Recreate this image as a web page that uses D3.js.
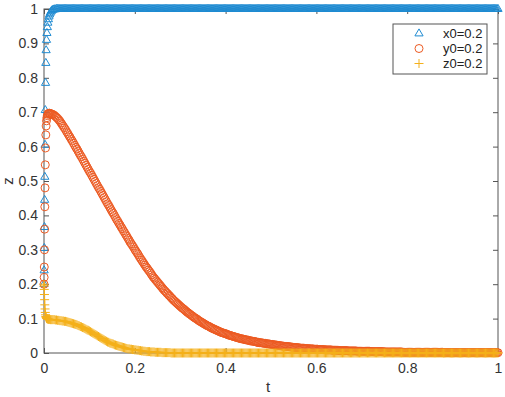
<!DOCTYPE html>
<html>
<head>
<meta charset="utf-8">
<script src="https://cdn.jsdelivr.net/npm/d3@7"></script>
<style>
  body { margin: 0; background: #fff; }
  svg { display: block; font-family: "Liberation Sans", Arial, sans-serif; }
</style>
</head>
<body>
<div id="chart-area"></div>
<script>
// solver output, first steps are very short
var tEarly = [0, 0.0003, 0.0006, 0.001, 0.0014, 0.0018, 0.0023, 0.0028, 0.0034, 0.004, 0.0047,
    0.0055, 0.0064, 0.0074, 0.0085, 0.0097, 0.011, 0.0124, 0.014, 0.0158, 0.0178];
var xEarly = [0.2, 0.24, 0.305, 0.366, 0.445, 0.512, 0.605, 0.706, 0.785, 0.843, 0.88,
    0.91, 0.93, 0.947, 0.96, 0.97, 0.978, 0.984, 0.989, 0.993, 0.996];
var yEarly = [0.2, 0.22, 0.25, 0.3, 0.36, 0.425, 0.48, 0.547, 0.596, 0.634, 0.66,
    0.675, 0.684, 0.69, 0.694, 0.696, 0.697, 0.697, 0.696, 0.695, 0.694];
var zEarly = [0.2, 0.195, 0.185, 0.17, 0.155, 0.14, 0.128, 0.118, 0.111, 0.106, 0.103,
    0.101, 0.1, 0.099, 0.099, 0.098, 0.098, 0.098, 0.097, 0.097, 0.097];

// then a fixed step, 8 samples per row
var tMain = [
    0.02,0.0225,0.025,0.0275,0.03,0.0325,0.035,0.0375,
    0.04,0.0425,0.045,0.0475,0.05,0.0525,0.055,0.0575,
    0.06,0.0625,0.065,0.0675,0.07,0.0725,0.075,0.0775,
    0.08,0.0825,0.085,0.0875,0.09,0.0925,0.095,0.0975,
    0.1,0.1025,0.105,0.1075,0.11,0.1125,0.115,0.1175,
    0.12,0.1225,0.125,0.1275,0.13,0.1325,0.135,0.1375,
    0.14,0.1425,0.145,0.1475,0.15,0.1525,0.155,0.1575,
    0.16,0.1625,0.165,0.1675,0.17,0.1725,0.175,0.1775,
    0.18,0.1825,0.185,0.1875,0.19,0.1925,0.195,0.1975,
    0.2,0.2025,0.205,0.2075,0.21,0.2125,0.215,0.2175,
    0.22,0.2225,0.225,0.2275,0.23,0.2325,0.235,0.2375,
    0.24,0.2425,0.245,0.2475,0.25,0.2525,0.255,0.2575,
    0.26,0.2625,0.265,0.2675,0.27,0.2725,0.275,0.2775,
    0.28,0.2825,0.285,0.2875,0.29,0.2925,0.295,0.2975,
    0.3,0.3025,0.305,0.3075,0.31,0.3125,0.315,0.3175,
    0.32,0.3225,0.325,0.3275,0.33,0.3325,0.335,0.3375,
    0.34,0.3425,0.345,0.3475,0.35,0.3525,0.355,0.3575,
    0.36,0.3625,0.365,0.3675,0.37,0.3725,0.375,0.3775,
    0.38,0.3825,0.385,0.3875,0.39,0.3925,0.395,0.3975,
    0.4,0.4025,0.405,0.4075,0.41,0.4125,0.415,0.4175,
    0.42,0.4225,0.425,0.4275,0.43,0.4325,0.435,0.4375,
    0.44,0.4425,0.445,0.4475,0.45,0.4525,0.455,0.4575,
    0.46,0.4625,0.465,0.4675,0.47,0.4725,0.475,0.4775,
    0.48,0.4825,0.485,0.4875,0.49,0.4925,0.495,0.4975,
    0.5,0.5025,0.505,0.5075,0.51,0.5125,0.515,0.5175,
    0.52,0.5225,0.525,0.5275,0.53,0.5325,0.535,0.5375,
    0.54,0.5425,0.545,0.5475,0.55,0.5525,0.555,0.5575,
    0.56,0.5625,0.565,0.5675,0.57,0.5725,0.575,0.5775,
    0.58,0.5825,0.585,0.5875,0.59,0.5925,0.595,0.5975,
    0.6,0.6025,0.605,0.6075,0.61,0.6125,0.615,0.6175,
    0.62,0.6225,0.625,0.6275,0.63,0.6325,0.635,0.6375,
    0.64,0.6425,0.645,0.6475,0.65,0.6525,0.655,0.6575,
    0.66,0.6625,0.665,0.6675,0.67,0.6725,0.675,0.6775,
    0.68,0.6825,0.685,0.6875,0.69,0.6925,0.695,0.6975,
    0.7,0.7025,0.705,0.7075,0.71,0.7125,0.715,0.7175,
    0.72,0.7225,0.725,0.7275,0.73,0.7325,0.735,0.7375,
    0.74,0.7425,0.745,0.7475,0.75,0.7525,0.755,0.7575,
    0.76,0.7625,0.765,0.7675,0.77,0.7725,0.775,0.7775,
    0.78,0.7825,0.785,0.7875,0.79,0.7925,0.795,0.7975,
    0.8,0.8025,0.805,0.8075,0.81,0.8125,0.815,0.8175,
    0.82,0.8225,0.825,0.8275,0.83,0.8325,0.835,0.8375,
    0.84,0.8425,0.845,0.8475,0.85,0.8525,0.855,0.8575,
    0.86,0.8625,0.865,0.8675,0.87,0.8725,0.875,0.8775,
    0.88,0.8825,0.885,0.8875,0.89,0.8925,0.895,0.8975,
    0.9,0.9025,0.905,0.9075,0.91,0.9125,0.915,0.9175,
    0.92,0.9225,0.925,0.9275,0.93,0.9325,0.935,0.9375,
    0.94,0.9425,0.945,0.9475,0.95,0.9525,0.955,0.9575,
    0.96,0.9625,0.965,0.9675,0.97,0.9725,0.975,0.9775,
    0.98,0.9825,0.985,0.9875,0.99,0.9925,0.995,0.9975,
    1];

var xMain = [
    0.998,0.999,0.999,1,1,1,1,1,
    1,1,1,1,1,1,1,1, 1,1,1,1,1,1,1,1, 1,1,1,1,1,1,1,1, 1,1,1,1,1,1,1,1,
    1,1,1,1,1,1,1,1, 1,1,1,1,1,1,1,1, 1,1,1,1,1,1,1,1, 1,1,1,1,1,1,1,1,
    1,1,1,1,1,1,1,1, 1,1,1,1,1,1,1,1, 1,1,1,1,1,1,1,1, 1,1,1,1,1,1,1,1,
    1,1,1,1,1,1,1,1, 1,1,1,1,1,1,1,1, 1,1,1,1,1,1,1,1, 1,1,1,1,1,1,1,1,
    1,1,1,1,1,1,1,1, 1,1,1,1,1,1,1,1, 1,1,1,1,1,1,1,1, 1,1,1,1,1,1,1,1,
    1,1,1,1,1,1,1,1, 1,1,1,1,1,1,1,1, 1,1,1,1,1,1,1,1, 1,1,1,1,1,1,1,1,
    1,1,1,1,1,1,1,1, 1,1,1,1,1,1,1,1, 1,1,1,1,1,1,1,1, 1,1,1,1,1,1,1,1,
    1,1,1,1,1,1,1,1, 1,1,1,1,1,1,1,1, 1,1,1,1,1,1,1,1, 1,1,1,1,1,1,1,1,
    1,1,1,1,1,1,1,1, 1,1,1,1,1,1,1,1, 1,1,1,1,1,1,1,1, 1,1,1,1,1,1,1,1,
    1,1,1,1,1,1,1,1, 1,1,1,1,1,1,1,1, 1,1,1,1,1,1,1,1, 1,1,1,1,1,1,1,1,
    1,1,1,1,1,1,1,1, 1,1,1,1,1,1,1,1, 1,1,1,1,1,1,1,1, 1,1,1,1,1,1,1,1,
    1,1,1,1,1,1,1,1, 1,1,1,1,1,1,1,1, 1,1,1,1,1,1,1,1, 1,1,1,1,1,1,1,1,
    1];

var yMain = [
    0.693,0.691,0.688,0.685,0.682,0.678,0.674,0.669,
    0.664,0.659,0.654,0.649,0.643,0.638,0.632,0.627,
    0.621,0.616,0.61,0.604,0.598,0.593,0.587,0.581,
    0.575,0.57,0.564,0.558,0.552,0.546,0.54,0.534,
    0.528,0.523,0.517,0.511,0.505,0.499,0.493,0.487,
    0.481,0.476,0.47,0.464,0.458,0.452,0.446,0.44,
    0.434,0.429,0.423,0.417,0.411,0.406,0.4,0.394,
    0.388,0.383,0.377,0.372,0.366,0.361,0.355,0.35,
    0.344,0.339,0.333,0.328,0.322,0.317,0.312,0.307,
    0.301,0.296,0.291,0.286,0.28,0.275,0.27,0.265,
    0.26,0.255,0.25,0.246,0.241,0.237,0.232,0.227,
    0.222,0.218,0.214,0.21,0.206,0.202,0.198,0.194,
    0.19,0.186,0.182,0.179,0.175,0.172,0.168,0.165,
    0.161,0.158,0.154,0.151,0.148,0.145,0.142,0.139,
    0.136,0.133,0.13,0.128,0.125,0.122,0.119,0.117,
    0.114,0.112,0.109,0.107,0.104,0.102,0.1,0.098,
    0.095,0.093,0.091,0.089,0.087,0.085,0.083,0.081,
    0.079,0.078,0.076,0.074,0.072,0.071,0.069,0.068,
    0.066,0.065,0.063,0.062,0.06,0.059,0.058,0.057,
    0.056,0.055,0.053,0.052,0.051,0.05,0.049,0.048,
    0.047,0.046,0.045,0.044,0.043,0.042,0.041,0.041,
    0.04,0.039,0.038,0.038,0.037,0.036,0.035,0.035,
    0.034,0.034,0.033,0.032,0.031,0.031,0.03,0.03,
    0.029,0.029,0.028,0.028,0.027,0.027,0.026,0.026,
    0.025,0.025,0.024,0.024,0.023,0.023,0.022,0.022,
    0.021,0.021,0.02,0.02,0.019,0.019,0.019,0.019,
    0.018,0.018,0.017,0.017,0.016,0.016,0.016,0.016,
    0.015,0.015,0.014,0.014,0.014,0.014,0.013,0.013,
    0.013,0.013,0.012,0.012,0.012,0.012,0.011,0.011,
    0.011,0.011,0.01,0.01,0.01,0.01,0.01,0.01,
    0.009,0.009,0.009,0.009,0.009,0.009,0.008,0.008,
    0.008,0.008,0.008,0.008,0.007,0.007,0.007,0.007,
    0.007,0.007,0.007,0.007,0.006,0.006,0.006,0.006,
    0.006,0.006,0.006,0.006,0.005,0.005,0.005,0.005,
    0.005,0.005,0.005,0.005,0.005,0.005,0.005,0.005,
    0.004,0.004,0.004,0.004,0.004,0.004,0.004,0.004,
    0.004,0.004,0.004,0.004,0.003,0.003,0.003,0.003,
    0.003,0.003,0.003,0.003,0.003,0.003,0.003,0.003,
    0.003,0.003,0.003,0.003,0.002,0.002,0.002,0.002,
    0.002,0.002,0.002,0.002,0.002,0.002,0.002,0.002,
    0.002,0.002,0.002,0.002,0.002,0.002,0.002,0.002,
    0.002,0.002,0.002,0.002,0.002,0.002,0.002,0.002,
    0.002,0.002,0.002,0.002,0.002,0.002,0.002,0.002,
    0.001,0.001,0.001,0.001,0.001,0.001,0.001,0.001,
    0.001,0.001,0.001,0.001,0.001,0.001,0.001,0.001,
    0.001,0.001,0.001,0.001,0.001,0.001,0.001,0.001,
    0.001,0.001,0.001,0.001,0.001,0.001,0.001,0.001,
    0.001,0.001,0.001,0.001,0.001,0.001,0.001,0.001,
    0.001,0.001,0.001,0.001,0.001,0.001,0.001,0.001,
    0.001];

var zMain = [
    0.097,0.097,0.096,0.096,0.095,0.095,0.094,0.094,
    0.093,0.093,0.092,0.092,0.091,0.09,0.089,0.088,
    0.087,0.086,0.085,0.084,0.083,0.082,0.08,0.079,
    0.077,0.076,0.074,0.073,0.071,0.069,0.067,0.066,
    0.064,0.062,0.06,0.058,0.056,0.054,0.052,0.05,
    0.048,0.046,0.044,0.042,0.04,0.038,0.036,0.034,
    0.032,0.031,0.029,0.028,0.027,0.026,0.024,0.023,
    0.022,0.021,0.02,0.019,0.018,0.017,0.016,0.015,
    0.014,0.013,0.012,0.012,0.011,0.011,0.01,0.01,
    0.009,0.009,0.008,0.008,0.007,0.007,0.006,0.006,
    0.005,0.005,0.004,0.004,0.004,0.004,0.003,0.003,
    0.003,0.003,0.002,0.002,0.002,0.002,0.002,0.002,
    0.001,0.001,0.001,0.001,0.001,0.001,0.001,0.001,
    0,0,0,0,0,0,0,0, 0,0,0,0,0,0,0,0, 0,0,0,0,0,0,0,0, 0,0,0,0,0,0,0,0,
    0,0,0,0,0,0,0,0, 0,0,0,0,0,0,0,0, 0,0,0,0,0,0,0,0, 0,0,0,0,0,0,0,0,
    0,0,0,0,0,0,0,0, 0,0,0,0,0,0,0,0, 0,0,0,0,0,0,0,0, 0,0,0,0,0,0,0,0,
    0,0,0,0,0,0,0,0, 0,0,0,0,0,0,0,0, 0,0,0,0,0,0,0,0, 0,0,0,0,0,0,0,0,
    0,0,0,0,0,0,0,0, 0,0,0,0,0,0,0,0, 0,0,0,0,0,0,0,0, 0,0,0,0,0,0,0,0,
    0,0,0,0,0,0,0,0, 0,0,0,0,0,0,0,0, 0,0,0,0,0,0,0,0, 0,0,0,0,0,0,0,0,
    0,0,0,0,0,0,0,0, 0,0,0,0,0,0,0,0, 0,0,0,0,0,0,0,0, 0,0,0,0,0,0,0,0,
    0,0,0,0,0,0,0,0, 0,0,0,0,0,0,0,0, 0,0,0,0,0,0,0,0, 0,0,0,0,0,0,0,0,
    0,0,0,0,0,0,0,0, 0,0,0,0,0,0,0,0, 0,0,0,0,0,0,0,0, 0,0,0,0,0,0,0,0,
    0];

var xTicks = [0, 0.2, 0.4, 0.6, 0.8, 1];
var yTicks = [0, 0.1, 0.2, 0.3, 0.4, 0.5, 0.6, 0.7, 0.8, 0.9, 1];
var seriesNames = ["x0=0.2", "y0=0.2", "z0=0.2"];

var W = 505, H = 397;
var margin = { left: 44, right: 7, top: 9, bottom: 44 };
var width = W - margin.left - margin.right;
var height = H - margin.top - margin.bottom;

var colors = ["#1f8bd2", "#ec5a22", "#f4b01a"];
var axisColor = "#555";

// marker shapes
var triPath = "M0,-4.6L4.1,2.4L-4.1,2.4Z";
var plusPath = "M-4.5,0H4.5M0,-4.5V4.5";

var svg = d3.select("#chart-area")
    .append("svg")
    .attr("width", W)
    .attr("height", H);

var g = svg.append("g")
    .attr("transform", "translate(" + margin.left + "," + margin.top + ")");

var x = d3.scaleLinear().domain([0, 1]).range([0, width]);
var y = d3.scaleLinear().domain([0, 1]).range([height, 0]);

function styleAxis(sel, showText) {
    sel.select(".domain").remove();
    sel.selectAll("line").attr("stroke", axisColor);
    sel.selectAll("text")
        .attr("fill", "#333")
        .attr("font-size", "14px")
        .attr("font-family", "'Liberation Sans', Arial, sans-serif");
    if (!showText) sel.selectAll("text").remove();
}

// axes, ticks point inward like matlab
g.append("g")
    .attr("transform", "translate(0," + height + ")")
    .call(d3.axisBottom(x).tickValues(xTicks).tickSizeInner(-5).tickSizeOuter(0).tickPadding(10)
        .tickFormat(function (d) { return d; }))
    .call(styleAxis, true);

g.append("g")
    .call(d3.axisLeft(y).tickValues(yTicks).tickSizeInner(-5).tickSizeOuter(0).tickPadding(6)
        .tickFormat(function (d) { return d; }))
    .call(styleAxis, true);

g.append("g")
    .call(d3.axisTop(x).tickValues(xTicks).tickSizeInner(-5).tickSizeOuter(0))
    .call(styleAxis, false);

g.append("g")
    .attr("transform", "translate(" + width + ",0)")
    .call(d3.axisRight(y).tickValues(yTicks).tickSizeInner(-5).tickSizeOuter(0))
    .call(styleAxis, false);

g.append("rect")
    .attr("width", width)
    .attr("height", height)
    .attr("fill", "none")
    .attr("stroke", axisColor)
    .attr("stroke-width", 1);

// series
var tAll = tEarly.concat(tMain);
var series = [xEarly.concat(xMain), yEarly.concat(yMain), zEarly.concat(zMain)];

series.forEach(function (vals, i) {
    var pts = tAll.map(function (t, j) { return [t, vals[j]]; });
    var sel = g.append("g").attr("class", "series-" + i)
        .selectAll(".m")
        .data(pts)
        .enter();

    if (i == 1) {
        sel.append("circle")
            .attr("cx", function (d) { return x(d[0]); })
            .attr("cy", function (d) { return y(d[1]); })
            .attr("r", 4)
            .attr("fill", "none")
            .attr("stroke", colors[i])
            .attr("stroke-width", 1);
    } else {
        sel.append("path")
            .attr("d", i == 0 ? triPath : plusPath)
            .attr("transform", function (d) { return "translate(" + x(d[0]) + "," + y(d[1]) + ")"; })
            .attr("fill", "none")
            .attr("stroke", colors[i])
            .attr("stroke-width", 1);
    }
});

// axis labels
g.append("text")
    .attr("x", x(0.5) - 3)
    .attr("y", height + 39)
    .attr("text-anchor", "middle")
    .attr("font-size", "15px")
    .attr("fill", "#333")
    .text("t");

g.append("text")
    .attr("transform", "rotate(-90)")
    .attr("x", -(y(0.5)))
    .attr("y", -31)
    .attr("text-anchor", "middle")
    .attr("font-size", "15px")
    .attr("fill", "#333")
    .text("z");

// legend
var legend = svg.append("g").attr("transform", "translate(393,24)");

legend.append("rect")
    .attr("width", 94)
    .attr("height", 50)
    .attr("fill", "#fff")
    .attr("stroke", axisColor);

seriesNames.forEach(function (name, i) {
    var ly = 9.5 + i * 15;
    if (i == 1) {
        legend.append("circle")
            .attr("cx", 26).attr("cy", ly).attr("r", 4)
            .attr("fill", "none").attr("stroke", colors[i]);
    } else {
        legend.append("path")
            .attr("d", i == 0 ? triPath : plusPath)
            .attr("transform", "translate(26," + ly + ")")
            .attr("fill", "none").attr("stroke", colors[i]);
    }
    legend.append("text")
        .attr("x", 50)
        .attr("y", ly)
        .attr("dy", "0.35em")
        .attr("font-size", "13px")
        .attr("fill", "#222")
        .text(name);
});
</script>
</body>
</html>
